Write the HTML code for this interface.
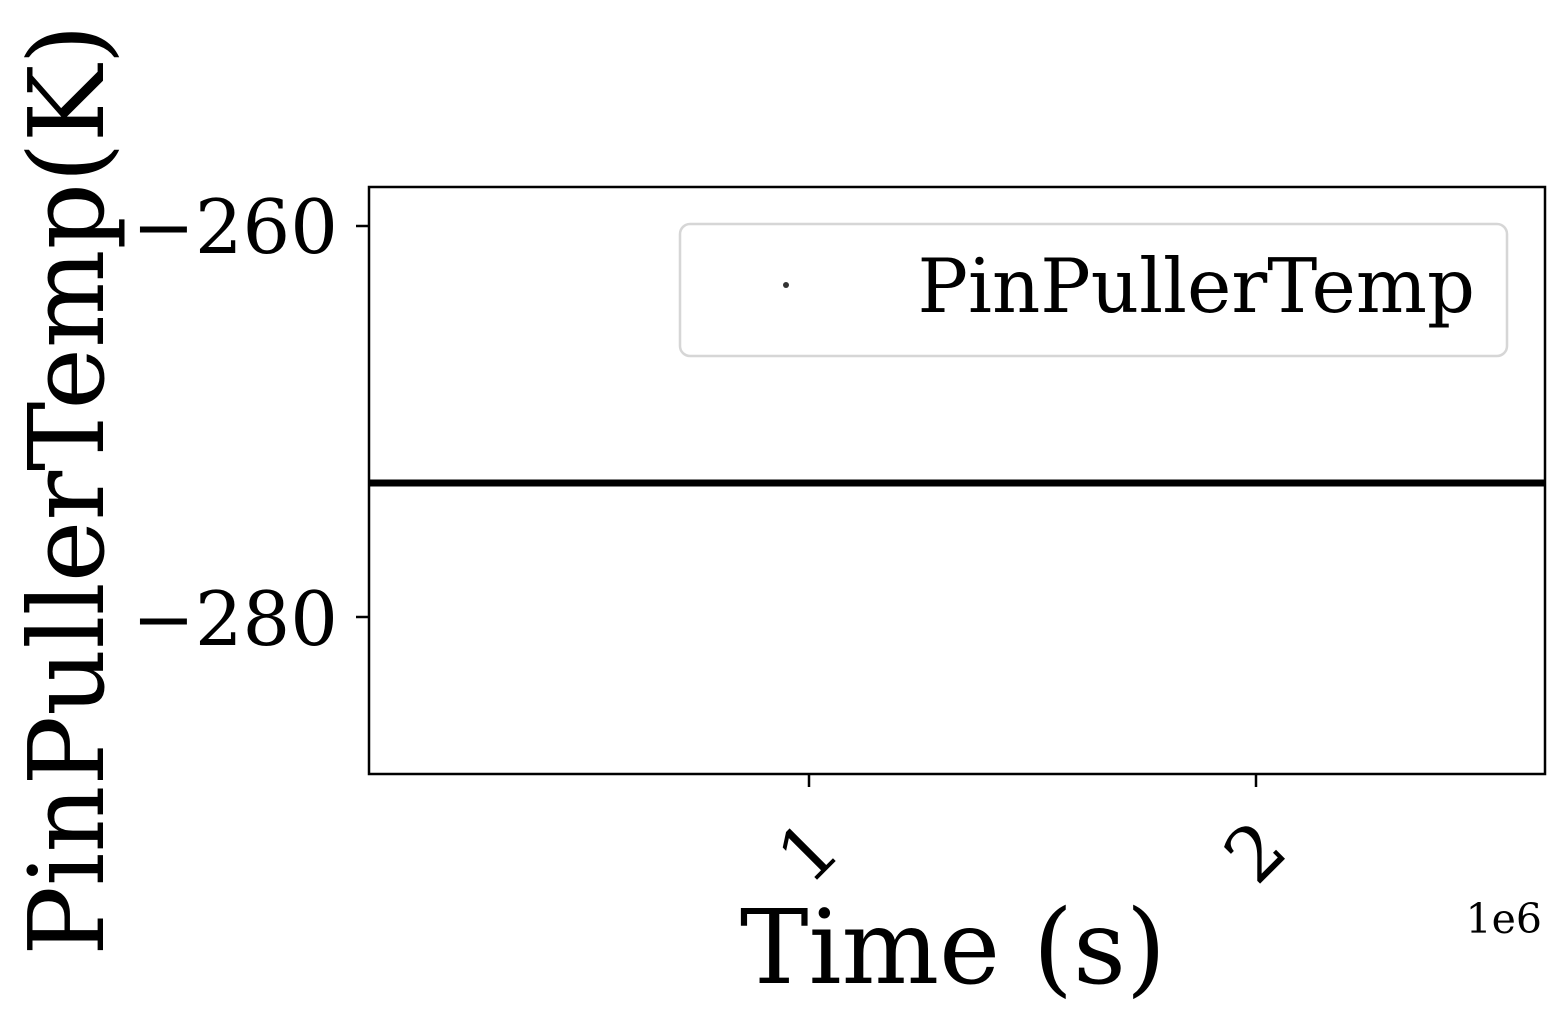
<!DOCTYPE html>
<html><head><style>html,body{margin:0;padding:0;background:#fff;}svg{display:block}</style></head>
<body>
<svg width="1559" height="1023" viewBox="0 0 1559 1023" xmlns="http://www.w3.org/2000/svg" font-family="DejaVu Serif, Liberation Serif, serif">
<rect width="1559" height="1023" fill="#fff"/>
<line x1="369" y1="483" x2="1545" y2="483" stroke="#000" stroke-width="7"/>
<rect x="369" y="187" width="1176" height="587" fill="none" stroke="#000" stroke-width="2.5"/>
<line x1="356" y1="226" x2="369" y2="226" stroke="#000" stroke-width="2.5"/>
<line x1="356" y1="617" x2="369" y2="617" stroke="#000" stroke-width="2.5"/>
<line x1="809" y1="774" x2="809" y2="787" stroke="#000" stroke-width="2.5"/>
<line x1="1256" y1="774" x2="1256" y2="787" stroke="#000" stroke-width="2.5"/>
<text x="338" y="253" font-size="75" text-anchor="end">−260</text>
<text x="338" y="645" font-size="75" text-anchor="end">−280</text>
<text transform="translate(808,852) rotate(-45)" font-size="75" text-anchor="middle" dominant-baseline="central">1</text>
<text transform="translate(1255,852) rotate(-45)" font-size="75" text-anchor="middle" dominant-baseline="central">2</text>
<text x="953" y="983" font-size="103" text-anchor="middle">Time (s)</text>
<text x="1542" y="933" font-size="41" text-anchor="end">1e6</text>
<text transform="translate(103,490) rotate(-90)" font-size="104" text-anchor="middle">PinPullerTemp(K)</text>
<rect x="680" y="224" width="827" height="132" rx="10" fill="#fff" fill-opacity="0.8" stroke="#d6d6d6" stroke-width="2.5"/>
<circle cx="786" cy="285" r="3" fill="#333"/>
<text x="1475" y="312" font-size="75" text-anchor="end">PinPullerTemp</text>
</svg>
</body></html>
